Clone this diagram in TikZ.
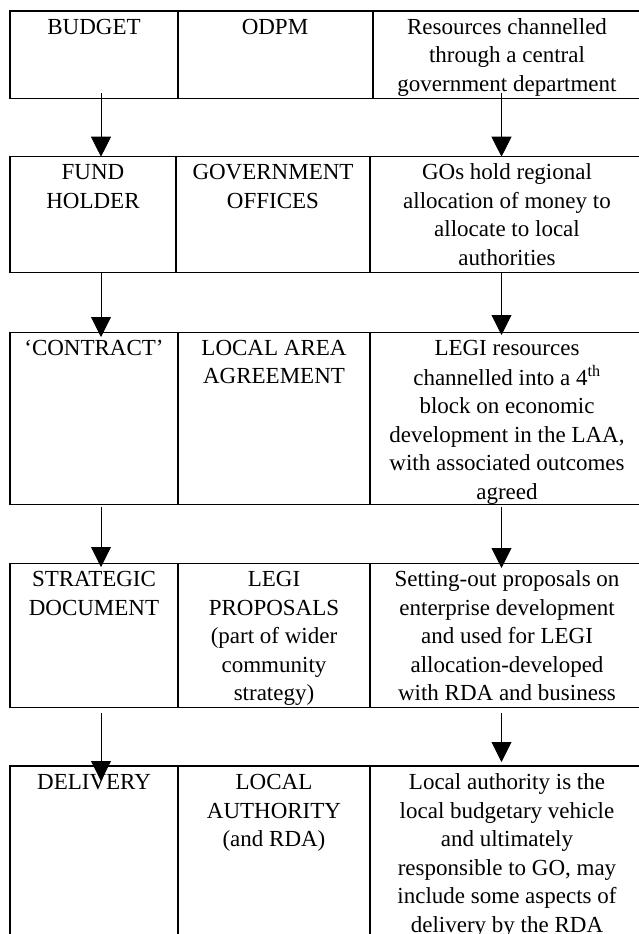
\documentclass[tikz,border=0pt]{standalone}
\usepackage{fontspec}
\setmainfont{Liberation Serif}
\usetikzlibrary{arrows.meta}
\tikzset{
  cell/.style={draw, line width=1.3pt, anchor=north west, inner sep=0pt, outer sep=0pt},
  txt/.style={anchor=north, inner sep=0pt, align=center, font=\fontsize{23}{28.5}\selectfont},
  arr/.style={line width=0.9pt, -{Triangle[width=20pt,length=20pt]}}
}
\begin{document}
\begin{tikzpicture}[x=1pt,y=-1pt]
\useasboundingbox (0,0) rectangle (639,934);
\clip (0,0) rectangle (639,934);
% x positions of arrows
\coordinate (xL) at (101,0);
\coordinate (xR) at (501.5,0);
% row 1
\node[cell, minimum width=168pt, minimum height=87.7pt] (r1a) at (10,11) {};
\node[cell, minimum width=195pt, minimum height=87.7pt] (r1b) at (178,11) {};
\node[cell, minimum width=300pt, minimum height=87.7pt] (r1c) at (373,11) {};
% row 2
\node[cell, minimum width=166pt, minimum height=116pt] (r2a) at (10,156.7) {};
\node[cell, minimum width=194pt, minimum height=116pt] (r2b) at (176,156.7) {};
\node[cell, minimum width=300pt, minimum height=116pt] (r2c) at (370,156.7) {};
% row 3
\node[cell, minimum width=168pt, minimum height=172pt] (r3a) at (10,332.3) {};
\node[cell, minimum width=192pt, minimum height=172pt] (r3b) at (178,332.3) {};
\node[cell, minimum width=300pt, minimum height=172pt] (r3c) at (370,332.3) {};
% row 4
\node[cell, minimum width=168pt, minimum height=144.4pt] (r4a) at (10,563.3) {};
\node[cell, minimum width=192pt, minimum height=144.4pt] (r4b) at (178,563.3) {};
\node[cell, minimum width=300pt, minimum height=144.4pt] (r4c) at (370,563.3) {};
% row 5
\node[cell, minimum width=168pt, minimum height=220pt] (r5a) at (10,766) {};
\node[cell, minimum width=192pt, minimum height=220pt] (r5b) at (178,766) {};
\node[cell, minimum width=300pt, minimum height=220pt] (r5c) at (370,766) {};
% texts
\node[txt] (t1a) at (94,14) {\strut BUDGET};
\node[txt] (t1b) at (275,14) {\strut ODPM};
\node[txt] (t1c) at (507,14) {\strut Resources channelled\\through a central\\government department};
\node[txt] (t2a) at (93,159.7) {\strut FUND\\HOLDER};
\node[txt] (t2b) at (273,159.7) {\strut GOVERNMENT\\OFFICES};
\node[txt] (t2c) at (507,159.7) {\strut GOs hold regional\\allocation of money to\\allocate to local\\authorities};
\node[txt] (t3a) at (94,335.3) {\strut ‘CONTRACT’};
\node[txt] (t3b) at (274,335.3) {\strut LOCAL AREA\\AGREEMENT};
\node[txt] (t3c) at (507,335.3) {\strut LEGI resources\\channelled into a 4\textsuperscript{th}\\block on economic\\development in the LAA,\\with associated outcomes\\agreed};
\node[txt] (t4a) at (94,566.5) {\strut STRATEGIC\\DOCUMENT};
\node[txt] (t4b) at (274,566.5) {\strut LEGI\\PROPOSALS\\(part of wider\\community\\strategy)};
\node[txt] (t4c) at (507,566.5) {\strut Setting-out proposals on\\enterprise development\\and used for LEGI\\allocation-developed\\with RDA and business};
\node[txt] (t5a) at (94,769.5) {\strut DELIVERY};
\node[txt] (t5b) at (274,769.5) {\strut LOCAL\\AUTHORITY\\(and RDA)};
\node[txt] (t5c) at (507,769.5) {\strut Local authority is the\\local budgetary vehicle\\and ultimately\\responsible to GO, may\\include some aspects of\\delivery by the RDA};
% arrows
\draw[arr] ([yshift=5.7pt]r1a.south -| xL) -- (r2a.north -| xL);
\draw[arr] ([yshift=5.7pt]r1c.south -| xR) -- (r2c.north -| xR);
\draw[arr] (r2a.south -| xL) -- ([yshift=-4.7pt]r3a.north -| xL);
\draw[arr] (r2c.south -| xR) -- ([yshift=-2.7pt]r3c.north -| xR);
\draw[arr] ([yshift=-2.4pt]r3a.south -| xL) -- ([yshift=-3.7pt]r4a.north -| xL);
\draw[arr] ([yshift=-2.4pt]r3c.south -| xR) -- ([yshift=-4.7pt]r4c.north -| xR);
\draw[arr] ([yshift=-5.3pt]r4a.south -| xL) -- ([yshift=-15pt]r5a.north -| xL);
\draw[arr] ([yshift=-5.3pt]r4c.south -| xR) -- ([yshift=4pt]r5c.north -| xR);
\end{tikzpicture}
\end{document}
